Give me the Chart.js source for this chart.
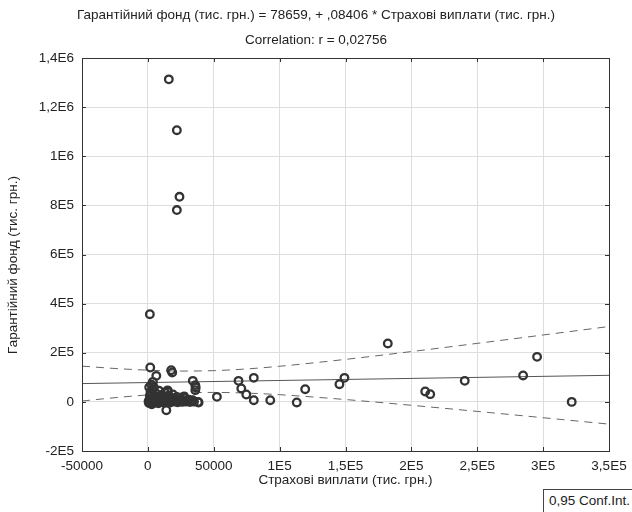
<!DOCTYPE html>
<html>
<head>
<meta charset="utf-8">
<script src="https://cdn.jsdelivr.net/npm/chart.js@4/dist/chart.umd.min.js"></script>
<style>
  html, body { margin: 0; padding: 0; background: #fff; }
  #wrap { position: relative; width: 632px; height: 512px; overflow: hidden; }
  #legendBox {
    position: absolute; left: 543px; top: 489px; width: 100px; height: 30px;
    border: 1px solid #444; box-sizing: border-box; background: #fff;
    font: 13.5px "Liberation Sans", Arial, sans-serif; color: #222;
    padding: 3px 0 0 5px;
  }
</style>
</head>
<body>
<div id="wrap">
  <canvas id="c" width="632" height="512"></canvas>
  <div id="legendBox">0,95 Conf.Int.</div>
</div>
<script>
// ---- Data ----
const titleLine1 = 'Гарантійний фонд (тис. грн.) = 78659, + ,08406 * Страхові виплати (тис. грн.)';
const titleLine2 = 'Correlation: r = 0,02756';
const xAxisTitle = 'Страхові виплати (тис. грн.)';
const yAxisTitle = 'Гарантійний фонд (тис. грн.)';

const xTickValues = [-50000, 0, 50000, 100000, 150000, 200000, 250000, 300000, 350000];
const xTickLabels = ['-50000', '0', '50000', '1E5', '1,5E5', '2E5', '2,5E5', '3E5', '3,5E5'];
const yTickValues = [-200000, 0, 200000, 400000, 600000, 800000, 1000000, 1200000, 1400000];
const yTickLabels = ['-2E5', '0', '2E5', '4E5', '6E5', '8E5', '1E6', '1,2E6', '1,4E6'];

// Страхові виплати (x) and Гарантійний фонд (y)
const payouts = [
  15900, 22000, 24000, 22000, 1500,
  1800, 6400, 3800, 4500, 17700, 18500, 34100, 36000, 36000, 38000, 38500, 14000, 15200, 52400,
  68800, 70900, 74700, 80400, 80400, 92900, 113000, 119400, 145400, 149200,
  182100, 210500, 214300, 240500, 284800, 295400, 321700,
  500, 800, 1200, 1500, 2000, 2200, 2500, 3000, 3300, 3500, 4000, 4200, 5000, 5500,
  6000, 6500, 7000, 7500, 8000, 8500, 9000, 9500, 10000, 10500, 11000, 11500, 12000,
  12500, 13000, 13500, 14500, 15000, 15500, 16000, 16500, 17000, 17500, 18000, 19000,
  19500, 20000, 21000, 22000, 22500, 23000, 24000, 25000, 26000, 27000, 28000, 29000,
  30000, 31000, 32000, 33000, 34000, 35000, 27500, 3000, 1000, 2700, 15000, 36300
];
const fund = [
  1313000, 1106000, 835000, 781000, 357000,
  140000, 106000, 81500, 60000, 129000, 119700, 85500, 68000, 47700, 0, -2400, -33800, 40700, 20400,
  85500, 54600, 30100, 97800, 6900, 6900, -2400, 51700, 72000, 97800,
  237800, 42400, 31400, 85500, 107500, 183300, 0,
  2000, -5000, 10000, 25000, 40000, 5000, -8000, 15000, 30000, 50000, 0, 20000, 8000, -3000,
  35000, 12000, 3000, 22000, -6000, 45000, 6000, 15000, 1000, 28000, -2000, 9000, 18000,
  4000, 38000, -1000, 12000, 2000, 25000, 7000, -4000, 16000, 3000, 10000, 30000,
  1000, 14000, 5000, 20000, -2000, 8000, 2000, 12000, 0, 6000, 15000, 1000,
  4000, 9000, -1000, 3000, 7000, 1000, 22000, -10000, 60000, 70000, 47000, 59000
];

// Regression line (from the title equation) end points
const fitX = [-50000, 350000];
const fitY = [74456, 108080];

// 0.95 confidence band, read along the x axis
const bandX = [-50000, -25000, 0, 25000, 50000, 75000, 100000, 150000, 200000, 250000, 300000, 350000];
const bandUpper = [145500, 136000, 129000, 125500, 127200, 134100, 145000, 173000, 204800, 238200, 272300, 306800];
const bandLower = [3500, 17000, 28400, 36000, 38500, 35800, 29200, 9500, -13900, -38800, -64500, -90600];

// ---- Chart ----
const FONT = '"Liberation Sans", Arial, sans-serif';
const TEXT = '#222';
const FS = 13.5;

const zip = (xs, ys) => xs.map((x, i) => ({ x: x, y: ys[i] }));

const decor = {
  id: 'decor',
  afterDraw(chart) {
    const { ctx, chartArea: a, scales } = chart;
    ctx.save();
    // frame
    ctx.strokeStyle = '#333';
    ctx.lineWidth = 1;
    ctx.strokeRect(Math.round(a.left) + 0.5, Math.round(a.top) + 0.5,
                   Math.round(a.right - a.left), Math.round(a.bottom - a.top));
    // inner tick marks
    ctx.beginPath();
    xTickValues.forEach(v => {
      const px = Math.round(scales.x.getPixelForValue(v)) + 0.5;
      ctx.moveTo(px, a.bottom); ctx.lineTo(px, a.bottom - 4);
      ctx.moveTo(px, a.top); ctx.lineTo(px, a.top + 4);
    });
    yTickValues.forEach(v => {
      const py = Math.round(scales.y.getPixelForValue(v)) + 0.5;
      ctx.moveTo(a.left, py); ctx.lineTo(a.left + 4, py);
      ctx.moveTo(a.right, py); ctx.lineTo(a.right - 4, py);
    });
    ctx.stroke();
    // titles
    ctx.fillStyle = TEXT;
    ctx.font = FS + 'px ' + FONT;
    ctx.textAlign = 'center';
    ctx.textBaseline = 'middle';
    ctx.fillText(titleLine1, 316, 15);
    ctx.fillText(titleLine2, 316, 40);
    ctx.fillText(xAxisTitle, (a.left + a.right) / 2, 480);
    ctx.translate(13, 265);
    ctx.rotate(-Math.PI / 2);
    ctx.fillText(yAxisTitle, 0, 0);
    ctx.restore();
  }
};

new Chart(document.getElementById('c'), {
  type: 'scatter',
  data: {
    datasets: [
      {
        label: 'points',
        data: zip(payouts, fund),
        showLine: false,
        pointStyle: 'circle',
        pointRadius: 3.8,
        pointBorderWidth: 2.3,
        pointBorderColor: '#333',
        pointBackgroundColor: 'rgba(255,255,255,0)'
      },
      {
        label: 'fit',
        data: zip(fitX, fitY),
        showLine: true,
        borderColor: '#555',
        borderWidth: 1,
        pointRadius: 0
      },
      {
        label: 'upper',
        data: zip(bandX, bandUpper),
        showLine: true,
        borderColor: '#666',
        borderWidth: 1,
        borderDash: [8, 6],
        cubicInterpolationMode: 'monotone',
        pointRadius: 0
      },
      {
        label: 'lower',
        data: zip(bandX, bandLower),
        showLine: true,
        borderColor: '#666',
        borderWidth: 1,
        borderDash: [8, 6],
        cubicInterpolationMode: 'monotone',
        pointRadius: 0
      }
    ]
  },
  options: {
    responsive: false,
    animation: false,
    events: [],
    layout: { padding: { left: 0, right: 23, top: 58, bottom: 0 } },
    plugins: { legend: { display: false }, tooltip: { enabled: false }, title: { display: false } },
    scales: {
      x: {
        type: 'linear',
        min: -50000, max: 350000,
        afterBuildTicks(scale) { scale.ticks = xTickValues.map(v => ({ value: v })); },
        afterFit(scale) {
          scale.height = 61;
          scale.paddingLeft = 0; scale.paddingRight = 0;
        },
        grid: { color: '#dedede', drawTicks: false },
        border: { display: false },
        ticks: {
          padding: 7,
          color: TEXT,
          font: { family: FONT, size: FS },
          maxRotation: 0,
          callback: (v, i) => xTickLabels[i]
        }
      },
      y: {
        type: 'linear',
        min: -200000, max: 1400000,
        afterBuildTicks(scale) { scale.ticks = yTickValues.map(v => ({ value: v })); },
        afterFit(scale) {
          scale.width = 82;
          scale.paddingTop = 0; scale.paddingBottom = 0;
        },
        grid: { color: '#dedede', drawTicks: false },
        border: { display: false },
        ticks: {
          padding: 8,
          color: TEXT,
          font: { family: FONT, size: FS },
          callback: (v, i) => yTickLabels[i]
        }
      }
    }
  },
  plugins: [decor]
});
</script>
</body>
</html>
